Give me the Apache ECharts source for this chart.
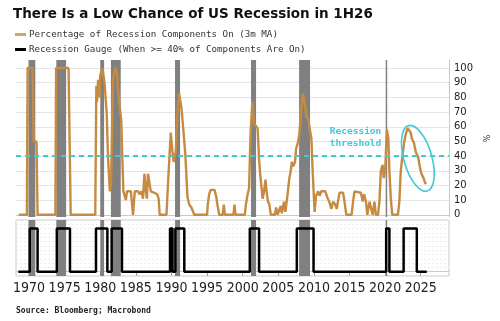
<!DOCTYPE html>
<html>
<head>
<meta charset="utf-8">
<script src="https://cdn.jsdelivr.net/npm/echarts@6/dist/echarts.min.js"></script>
<style>
  html, body { margin: 0; padding: 0; background: #ffffff; }
  #chart { width: 500px; height: 321px; }
</style>
</head>
<body>
<div id="chart"></div>
<script>
// NBER recession periods (decimal years)
const recessionStarts = [1969.92, 1973.83, 1980.0, 1981.5, 1990.5, 2001.17, 2007.92, 2020.08];
const recessionEnds   = [1970.88, 1975.21, 1980.54, 1982.88, 1991.21, 2001.88, 2009.46, 2020.29];

// Percentage of recession components on (3m MA)
const pctYears = [
  1968.55, 1969.7, 1969.8, 1970.5, 1970.65, 1971.05, 1971.2, 1973.7, 1973.8, 1975.15,
  1975.55, 1975.85, 1979.3, 1979.45, 1979.55, 1979.7, 1979.85, 1980.0, 1980.3, 1980.6,
  1980.9, 1981.1, 1981.35, 1981.5, 1981.8, 1982.1, 1982.35, 1982.5, 1982.75, 1982.95,
  1983.1, 1983.25, 1983.5, 1983.6, 1983.75, 1984.3, 1984.45, 1984.6, 1984.85, 1985.3,
  1985.5, 1985.8, 1986.0, 1986.2, 1986.4, 1986.55, 1986.7, 1986.9, 1987.1, 1987.6,
  1988.0, 1988.2, 1988.35, 1989.3, 1989.5, 1989.9, 1990.1, 1990.3, 1990.6, 1990.85,
  1991.05, 1991.4, 1991.65, 1991.95, 1992.25, 1992.5, 1992.8, 1993.0, 1993.2, 1995.0,
  1995.1, 1995.3, 1995.5, 1996.05, 1996.3, 1996.45, 1996.7, 1997.2, 1997.35, 1997.5,
  1998.7, 1998.85, 1999.0, 2000.3, 2000.45, 2000.7, 2000.9, 2001.1, 2001.35, 2001.6,
  2001.85, 2002.1, 2002.3, 2002.45, 2002.6, 2002.8, 2003.0, 2003.2, 2003.35, 2003.55,
  2003.75, 2003.95, 2004.5, 2004.7, 2004.9, 2005.35, 2005.5, 2005.8, 2006.0, 2006.35,
  2006.55, 2006.75, 2006.9, 2007.1, 2007.35, 2007.5, 2007.75, 2007.95, 2008.2, 2008.45,
  2008.7, 2008.95, 2009.2, 2009.4, 2009.65, 2009.85, 2010.1, 2010.3, 2010.6, 2010.8,
  2011.05, 2011.6, 2011.95, 2012.15, 2012.45, 2012.7, 2013.0, 2013.2, 2013.45, 2013.6,
  2014.1, 2014.3, 2014.55, 2015.3, 2015.5, 2015.7, 2016.6, 2016.85, 2017.05, 2017.3,
  2017.5, 2017.8, 2018.05, 2018.25, 2018.5, 2018.7, 2019.0, 2019.2, 2019.4, 2019.65,
  2019.8, 2020.0, 2020.25, 2020.45, 2020.6, 2020.8, 2021.0, 2021.8, 2022.0, 2022.2,
  2022.45, 2022.7, 2022.9, 2023.15, 2023.35, 2023.6, 2023.75, 2023.9, 2024.05, 2024.3,
  2024.45, 2024.65, 2024.8, 2024.9, 2025.1, 2025.25, 2025.4, 2025.6, 2025.75
];
const pctValues = [
  0, 0, 100, 100, 50, 50, 0, 0, 100, 100,
  100, 0, 0, 88, 77, 92, 80, 95, 100, 90,
  70, 38, 16, 20, 93, 100, 97, 84, 73, 64,
  39, 16, 15, 10, 16, 16, 15, 0, 16, 16,
  14, 16, 11, 28, 16, 11, 28, 28, 16, 15,
  14, 11, 0, 0, 20, 56, 45, 36, 43, 70,
  83, 73, 59, 41, 12, 7, 5, 6, 0, 0,
  7, 14, 17, 17, 12, 7, 0, 0, 7, 0,
  0, 7, 0, 0, 7, 14, 18, 54, 77, 62,
  62, 59, 38, 28, 27, 11, 16, 24, 16, 9,
  7, 0, 0, 5, 0, 6, 1, 9, 2, 16,
  25, 30, 36, 33, 36, 45, 49, 55, 70, 83,
  77, 67, 65, 65, 52, 27, 2, 13, 16, 13,
  16, 16, 11, 9, 4, 9, 7, 4, 11, 15,
  15, 9, 0, 0, 9, 16, 15, 9, 14, 9,
  0, 9, 9, 0, 9, 0, 0, 9, 30, 34,
  25, 30, 58, 52, 30, 11, 0, 0, 9, 30,
  41, 50, 55, 59, 59, 56, 52, 53, 49, 43,
  44, 39, 39, 32, 28, 29, 25, 22, 21
];

// Recession gauge (1 when >= 40% of components are on), switch points
const gaugeYears  = [1968.5, 1970.1, 1971.2, 1973.9, 1975.75, 1979.4, 1981.0, 1981.6, 1983.05, 1989.8,
                     1990.15, 1990.55, 1991.8, 2001.0, 2002.3, 2007.6, 2009.95, 2020.15, 2020.6, 2022.6,
                     2024.45, 2025.85];
const gaugeValues = [0, 1, 0, 1, 0, 1, 0, 1, 0, 1,
                     0, 1, 0, 1, 0, 1, 0, 1, 0, 1,
                     0, 0];

const yearTicks = [1970, 1975, 1980, 1985, 1990, 1995, 2000, 2005, 2010, 2015, 2020, 2025];
const pctTicks = [0, 10, 20, 30, 40, 50, 60, 70, 80, 90, 100];
const thresholdValue = 40;

const TEAL = '#3fcbd3';
const TAN = '#c68b40';
const MONO = '"DejaVu Sans Mono", "Liberation Mono", monospace';

const pctData = pctYears.map((y, i) => [y, pctValues[i]]);
const gaugeData = gaugeYears.map((y, i) => [y, gaugeValues[i]]);
const bands = recessionStarts.map((s, i) => [{ xAxis: s }, { xAxis: recessionEnds[i] }]);

const X_MIN = 1968.17, X_MAX = 2028.97;

const chart = echarts.init(document.getElementById('chart'), null, { renderer: 'canvas' });

chart.setOption({
  animation: false,
  backgroundColor: '#ffffff',
  title: [
    {
      text: 'There Is a Low Chance of US Recession in 1H26',
      left: 8, top: 2,
      textStyle: { fontFamily: '"DejaVu Sans", Verdana, sans-serif', fontWeight: 'bold', fontSize: 13.5, color: '#111' }
    },
    {
      text: 'Source: Bloomberg; Macrobond',
      left: 11, top: 302,
      textStyle: { fontFamily: MONO, fontWeight: 'bold', fontSize: 8, color: '#222' }
    }
  ],
  legend: {
    orient: 'vertical',
    left: 10, top: 24,
    itemWidth: 11, itemHeight: 3, itemGap: 4,
    icon: 'rect',
    textStyle: { fontFamily: MONO, fontSize: 9.2, color: '#333', lineHeight: 11, padding: [0, 0, 0, -2] },
    data: [
      { name: 'Percentage of Recession Components On (3m MA)', itemStyle: { color: '#d4a466' } },
      { name: 'Recession Gauge (When >= 40% of Components Are On)', itemStyle: { color: '#000' } }
    ]
  },
  grid: [
    { left: 16, right: 51, top: 60, height: 157 },
    { left: 16, right: 51, top: 220, height: 56, show: true, borderColor: '#c9c9c9', borderWidth: 1, backgroundColor: 'transparent' }
  ],
  xAxis: [
    {
      gridIndex: 0, type: 'value', min: X_MIN, max: X_MAX,
      axisLine: { show: true, lineStyle: { color: '#c9c9c9', width: 1 } },
      axisTick: { show: false }, axisLabel: { show: false }, splitLine: { show: false }
    },
    {
      gridIndex: 1, type: 'value', min: X_MIN, max: X_MAX,
      axisLine: { show: true, lineStyle: { color: '#c9c9c9', width: 1 } },
      axisTick: { show: true, customValues: yearTicks, length: 4, lineStyle: { color: '#999' } },
      axisLabel: {
        customValues: yearTicks, formatter: v => String(v), margin: 5,
        fontFamily: '"Liberation Sans Narrow", "DejaVu Sans Condensed", "Liberation Sans", sans-serif',
        fontSize: 14, color: '#222'
      },
      splitLine: { show: false }
    }
  ],
  yAxis: [
    {
      gridIndex: 0, type: 'value', position: 'right', min: -1.5, max: 105.5,
      name: '%', nameLocation: 'middle', nameGap: 28, nameRotate: 90,
      nameTextStyle: { fontSize: 8, color: '#333', fontFamily: '"DejaVu Sans", sans-serif' },
      axisLine: { show: true, lineStyle: { color: '#c9c9c9', width: 1 } },
      axisTick: { show: false, customValues: pctTicks },
      axisLabel: { customValues: pctTicks, margin: 5, fontSize: 10, color: '#222', fontFamily: '"DejaVu Sans", Tahoma, sans-serif' },
      splitLine: { show: true, lineStyle: { color: '#e4e4e4', width: 1 } }
    },
    {
      gridIndex: 1, type: 'value', min: -0.1, max: 1.2, interval: 0.1,
      axisLine: { show: false }, axisTick: { show: false }, axisLabel: { show: false },
      splitLine: { show: true, lineStyle: { color: '#ececec', width: 1, type: [2, 2] } }
    }
  ],
  series: [
    {
      name: 'Percentage of Recession Components On (3m MA)',
      type: 'line', xAxisIndex: 0, yAxisIndex: 0,
      data: pctData, showSymbol: false, symbol: 'none',
      lineStyle: { color: TAN, width: 2.4 }, itemStyle: { color: TAN },
      z: 3,
      markArea: { silent: true, itemStyle: { color: '#808080' }, data: bands },
      markLine: {
        silent: true, symbol: 'none', label: { show: false },
        lineStyle: { color: TEAL, width: 2, type: [5, 4] },
        data: [{ yAxis: thresholdValue }]
      }
    },
    {
      name: 'Recession Gauge (When >= 40% of Components Are On)',
      type: 'line', xAxisIndex: 1, yAxisIndex: 1, step: 'end',
      data: gaugeData, showSymbol: false, symbol: 'none',
      lineStyle: { color: '#000', width: 2.5 }, itemStyle: { color: '#000' },
      z: 3,
      markArea: { silent: true, itemStyle: { color: '#808080' }, data: bands }
    }
  ]
});

// Annotations placed in data space: threshold caption and highlight ring around the latest readings
const captionAt = chart.convertToPixel({ xAxisIndex: 0, yAxisIndex: 0 }, [2015.85, 53]);
const ringAt = chart.convertToPixel({ xAxisIndex: 0, yAxisIndex: 0 }, [2024.6, 38.5]);

chart.setOption({
  graphic: [
    {
      type: 'text', x: captionAt[0], y: captionAt[1], z: 10,
      style: {
        text: 'Recession\nthreshold', fill: TEAL, align: 'center', verticalAlign: 'middle',
        font: 'bold 9.5px ' + MONO, lineHeight: 12
      }
    },
    {
      type: 'ellipse', x: ringAt[0], y: ringAt[1], rotation: 0.28, z: 10,
      shape: { cx: 0, cy: 0, rx: 14, ry: 34 },
      style: { fill: 'none', stroke: TEAL, lineWidth: 1.6 }
    }
  ]
});
</script>
</body>
</html>
